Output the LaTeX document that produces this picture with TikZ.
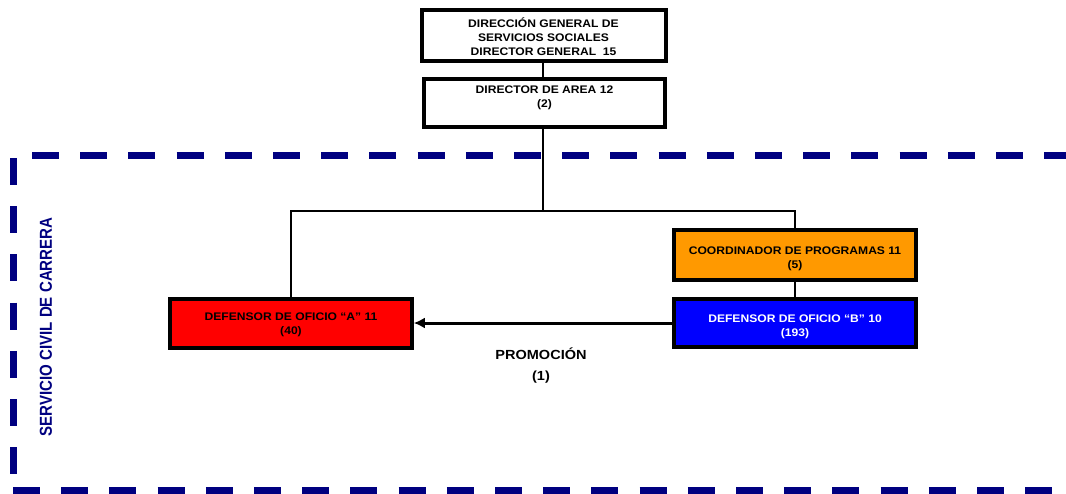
\documentclass[tikz,border=0pt]{standalone}
\usepackage{fontspec}
\setmainfont{Liberation Sans}[FakeStretch=1.1]
\newfontfamily\sidefont{Liberation Sans}[FakeStretch=0.87]
\usetikzlibrary{arrows.meta,calc}
\definecolor{navyline}{HTML}{000080}
\definecolor{boxred}{HTML}{FF0000}
\definecolor{boxorange}{HTML}{FF9900}
\definecolor{boxblue}{HTML}{0000FF}
\tikzset{
  orgbox/.style={draw=black, line width=3.6pt, minimum width=242pt, minimum height=49pt, inner sep=0pt},
  boxtext/.style={align=center, inner sep=0pt, font=\bfseries\fontsize{11}{14}\selectfont},
  link/.style={draw=black, line width=2pt},
  frameline/.style={draw=navyline, line width=6.5pt, dash pattern=on 27pt off 21.2pt},
}
\begin{document}
\begin{tikzpicture}[x=1pt, y=-1pt]
\useasboundingbox (0,0) rectangle (1066,493);

% frame of the career civil service area
\draw[frameline] (32,155.5) -- (1066,155.5);
\draw[frameline] (13.5,158) -- (13.5,480);
\draw[frameline] (13,490.5) -- (1066,490.5);
\node[rotate=90, text=navyline, inner sep=0pt, font=\sidefont\bfseries\fontsize{17.3}{19}\selectfont] (scc) at (46,327) {SERVICIO CIVIL DE CARRERA};

% boxes
\node[orgbox, minimum width=244pt, minimum height=51pt] (dg) at (544,35.5) {};
\node[boxtext] (dgt) at (543.5,36.5) {DIRECCIÓN GENERAL DE\\SERVICIOS SOCIALES\\DIRECTOR GENERAL\ \ 15};
\node[orgbox, minimum width=241pt, minimum height=48pt] (da) at (544.5,103) {};
\node[boxtext] (dat) at (544.5,98) {DIRECTOR DE AREA 12\\(2)};
\node[orgbox, fill=boxred] (dfa) at (291,323.5) {};
\node[boxtext] (dfat) at (291,324.5) {DEFENSOR DE OFICIO “A” 11\\(40)};
\node[orgbox, fill=boxorange, minimum height=50pt] (cp) at (795,255) {};
\node[boxtext] (cpt) at (795,259) {COORDINADOR DE PROGRAMAS 11\\(5)};
\node[orgbox, fill=boxblue, minimum height=48pt] (dfb) at (795,323) {};
\node[boxtext, text=white] (dfbt) at (795,326.5) {DEFENSOR DE OFICIO “B” 10\\(193)};

% connectors
\coordinate (bus) at (543,211);
\draw[link] (dg.south -| bus) -- (da.north -| bus);
\draw[link] (da.south -| bus) -- (bus);
\draw[link] (dfa.north) |- (bus) -| (cp.north);
\draw[link] (cp.south) -- (dfb.north);
\draw[draw=black, line width=3pt, -{Latex[length=11pt,width=11pt]}] (dfb.west) -- (dfa.east |- dfb.west);

\node[align=center, inner sep=0pt, font=\bfseries\fontsize{13.2}{20.5}\selectfont] (promo) at (541,365.5) {PROMOCIÓN\\(1)};
\end{tikzpicture}
\end{document}
